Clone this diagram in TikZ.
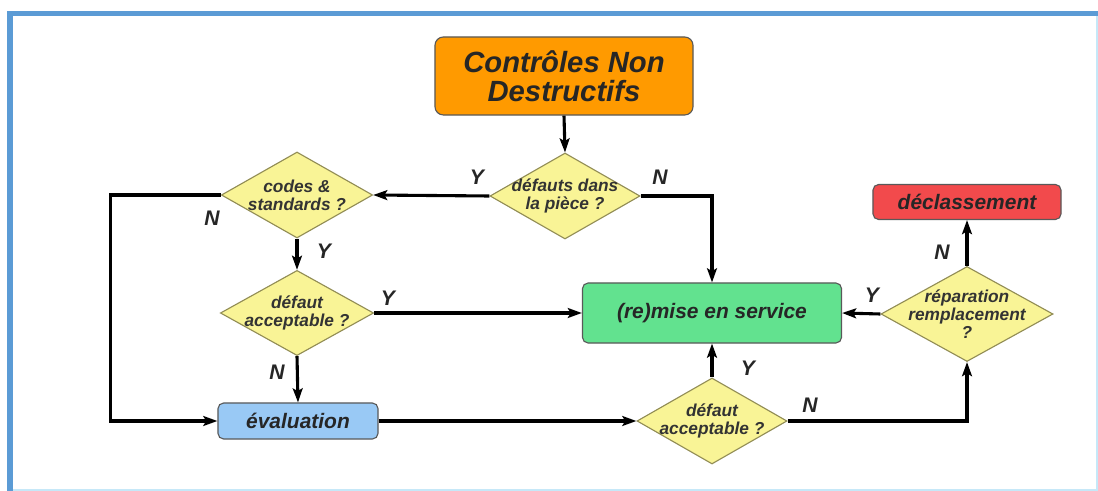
\documentclass[tikz,border=0pt]{standalone}
\usepackage{fontspec}
\setmainfont{Liberation Sans}
\usetikzlibrary{shapes.geometric,arrows.meta}

\def \lineWidth {2.2pt}
\def \titleFont {\fontsize{20.8}{21}\selectfont\bfseries\itshape}
\def \boxFont {\fontsize{14.9}{16}\selectfont\bfseries\itshape}
\def \diaFont {\fontsize{12.3}{12.8}\selectfont\bfseries\itshape}

\definecolor{frameBlue}{HTML}{5B9BD5}
\definecolor{frameLight}{HTML}{C6E8F8}
\definecolor{cndOrange}{HTML}{FF9A00}
\definecolor{diaYellow}{HTML}{F9F496}
\definecolor{serviceGreen}{HTML}{62E28F}
\definecolor{evalBlue}{HTML}{99C9F5}
\definecolor{declRed}{HTML}{F24A4C}

\tikzset{
  box/.style={draw=black!65, line width=0.8pt, rounded corners=4pt, text=black!85, font=\boxFont},
  decision/.style={diamond, draw=black!40!olive!70, fill=diaYellow, line width=0.8pt, inner sep=0pt},
  diatext/.style={align=center, text=black!80, font=\diaFont},
  flow/.style={line width=\lineWidth, -{Stealth[length=10pt,width=7pt,inset=2pt]}},
  yn/.style={text=black!85, font=\fontsize{15}{15}\selectfont\bfseries\itshape},
}

\begin{document}
\begin{tikzpicture}[x=0.025cm, y=-0.025cm]
   \useasboundingbox (0,0) rectangle (1098,491);
   \fill[white] (0,0) rectangle (1098,491);
   \draw[frameLight, line width=1.5pt] (10,14) -- (1097,14) -- (1097,490) -- (10,490);
   \draw[frameBlue, line width=3.6pt] (10,491) -- (10,13.5) -- (1098,13.5);

   \node[box, fill=cndOrange, rounded corners=6pt, minimum width=6.45cm, minimum height=1.95cm, align=center, font=\titleFont] (cnd) at (564,76) {Contrôles Non\\Destructifs};

   \node[decision, minimum width=3.75cm, minimum height=2.15cm] (dpiece) at (565,196) {};
   \node[diatext] (tpiece) at (dpiece) {défauts dans\\la pièce ?};
   \node[decision, minimum width=3.78cm, minimum height=2.15cm] (dcodes) at (297,195) {};
   \node[diatext] (tcodes) at (dcodes) {codes \&\\standards ?};
   \node[decision, minimum width=3.83cm, minimum height=2.13cm] (dacc1) at (297,313) {};
   \node[diatext] (tacc1) at (dacc1) {défaut\\acceptable ?};
   \node[box, fill=evalBlue, minimum width=4cm, minimum height=0.9cm] (eval) at (298,421) {évaluation};

   \node[box, fill=serviceGreen, minimum width=6.475cm, minimum height=1.5cm] (service) at (712,313) {(re)mise en service};
   \node[decision, minimum width=3.75cm, minimum height=2.15cm] (dacc2) at (712,421) {};
   \node[diatext] (tacc2) at (dacc2) {défaut\\acceptable ?};
   \node[decision, minimum width=4.3cm, minimum height=2.375cm] (drep) at (967,314) {};
   \node[diatext] (trep) at (drep) {réparation\\remplacement\\?};
   \node[box, fill=declRed, minimum width=4.7cm, minimum height=0.875cm] (decl) at (967,202) {déclassement};

   \draw[flow] (cnd.south) -- (dpiece.north);
   \draw[flow] (dpiece.west) -- (dcodes.east);
   \draw[flow] (dpiece.east) -| (service.north);
   \draw[flow] (dcodes.west) -- ++(-110,0) |- (eval.west);
   \draw[flow] (dcodes.south) -- (dacc1.north);
   \draw[flow] (dacc1.east) -- (service.west);
   \draw[flow] (dacc1.south) -- (eval.north);
   \draw[flow] (eval.east) -- (dacc2.west);
   \draw[flow] (dacc2.north) -- (service.south);
   \draw[flow] (dacc2.east) -| (drep.south);
   \draw[flow] (drep.west) -- (service.east);
   \draw[flow] (drep.north) -- (decl.south);

   \node[yn] (ypiece) at (477,177) {Y};
   \node[yn] (npiece) at (660,177) {N};
   \node[yn] (ncodes) at (212,218) {N};
   \node[yn] (ycodes) at (324,251) {Y};
   \node[yn] (yacc1) at (388,298) {Y};
   \node[yn] (nacc1) at (277,372) {N};
   \node[yn] (yacc2) at (748,368) {Y};
   \node[yn] (nacc2) at (810,405) {N};
   \node[yn] (yrep) at (872,295) {Y};
   \node[yn] (nrep) at (942,252) {N};
\end{tikzpicture}
\end{document}
